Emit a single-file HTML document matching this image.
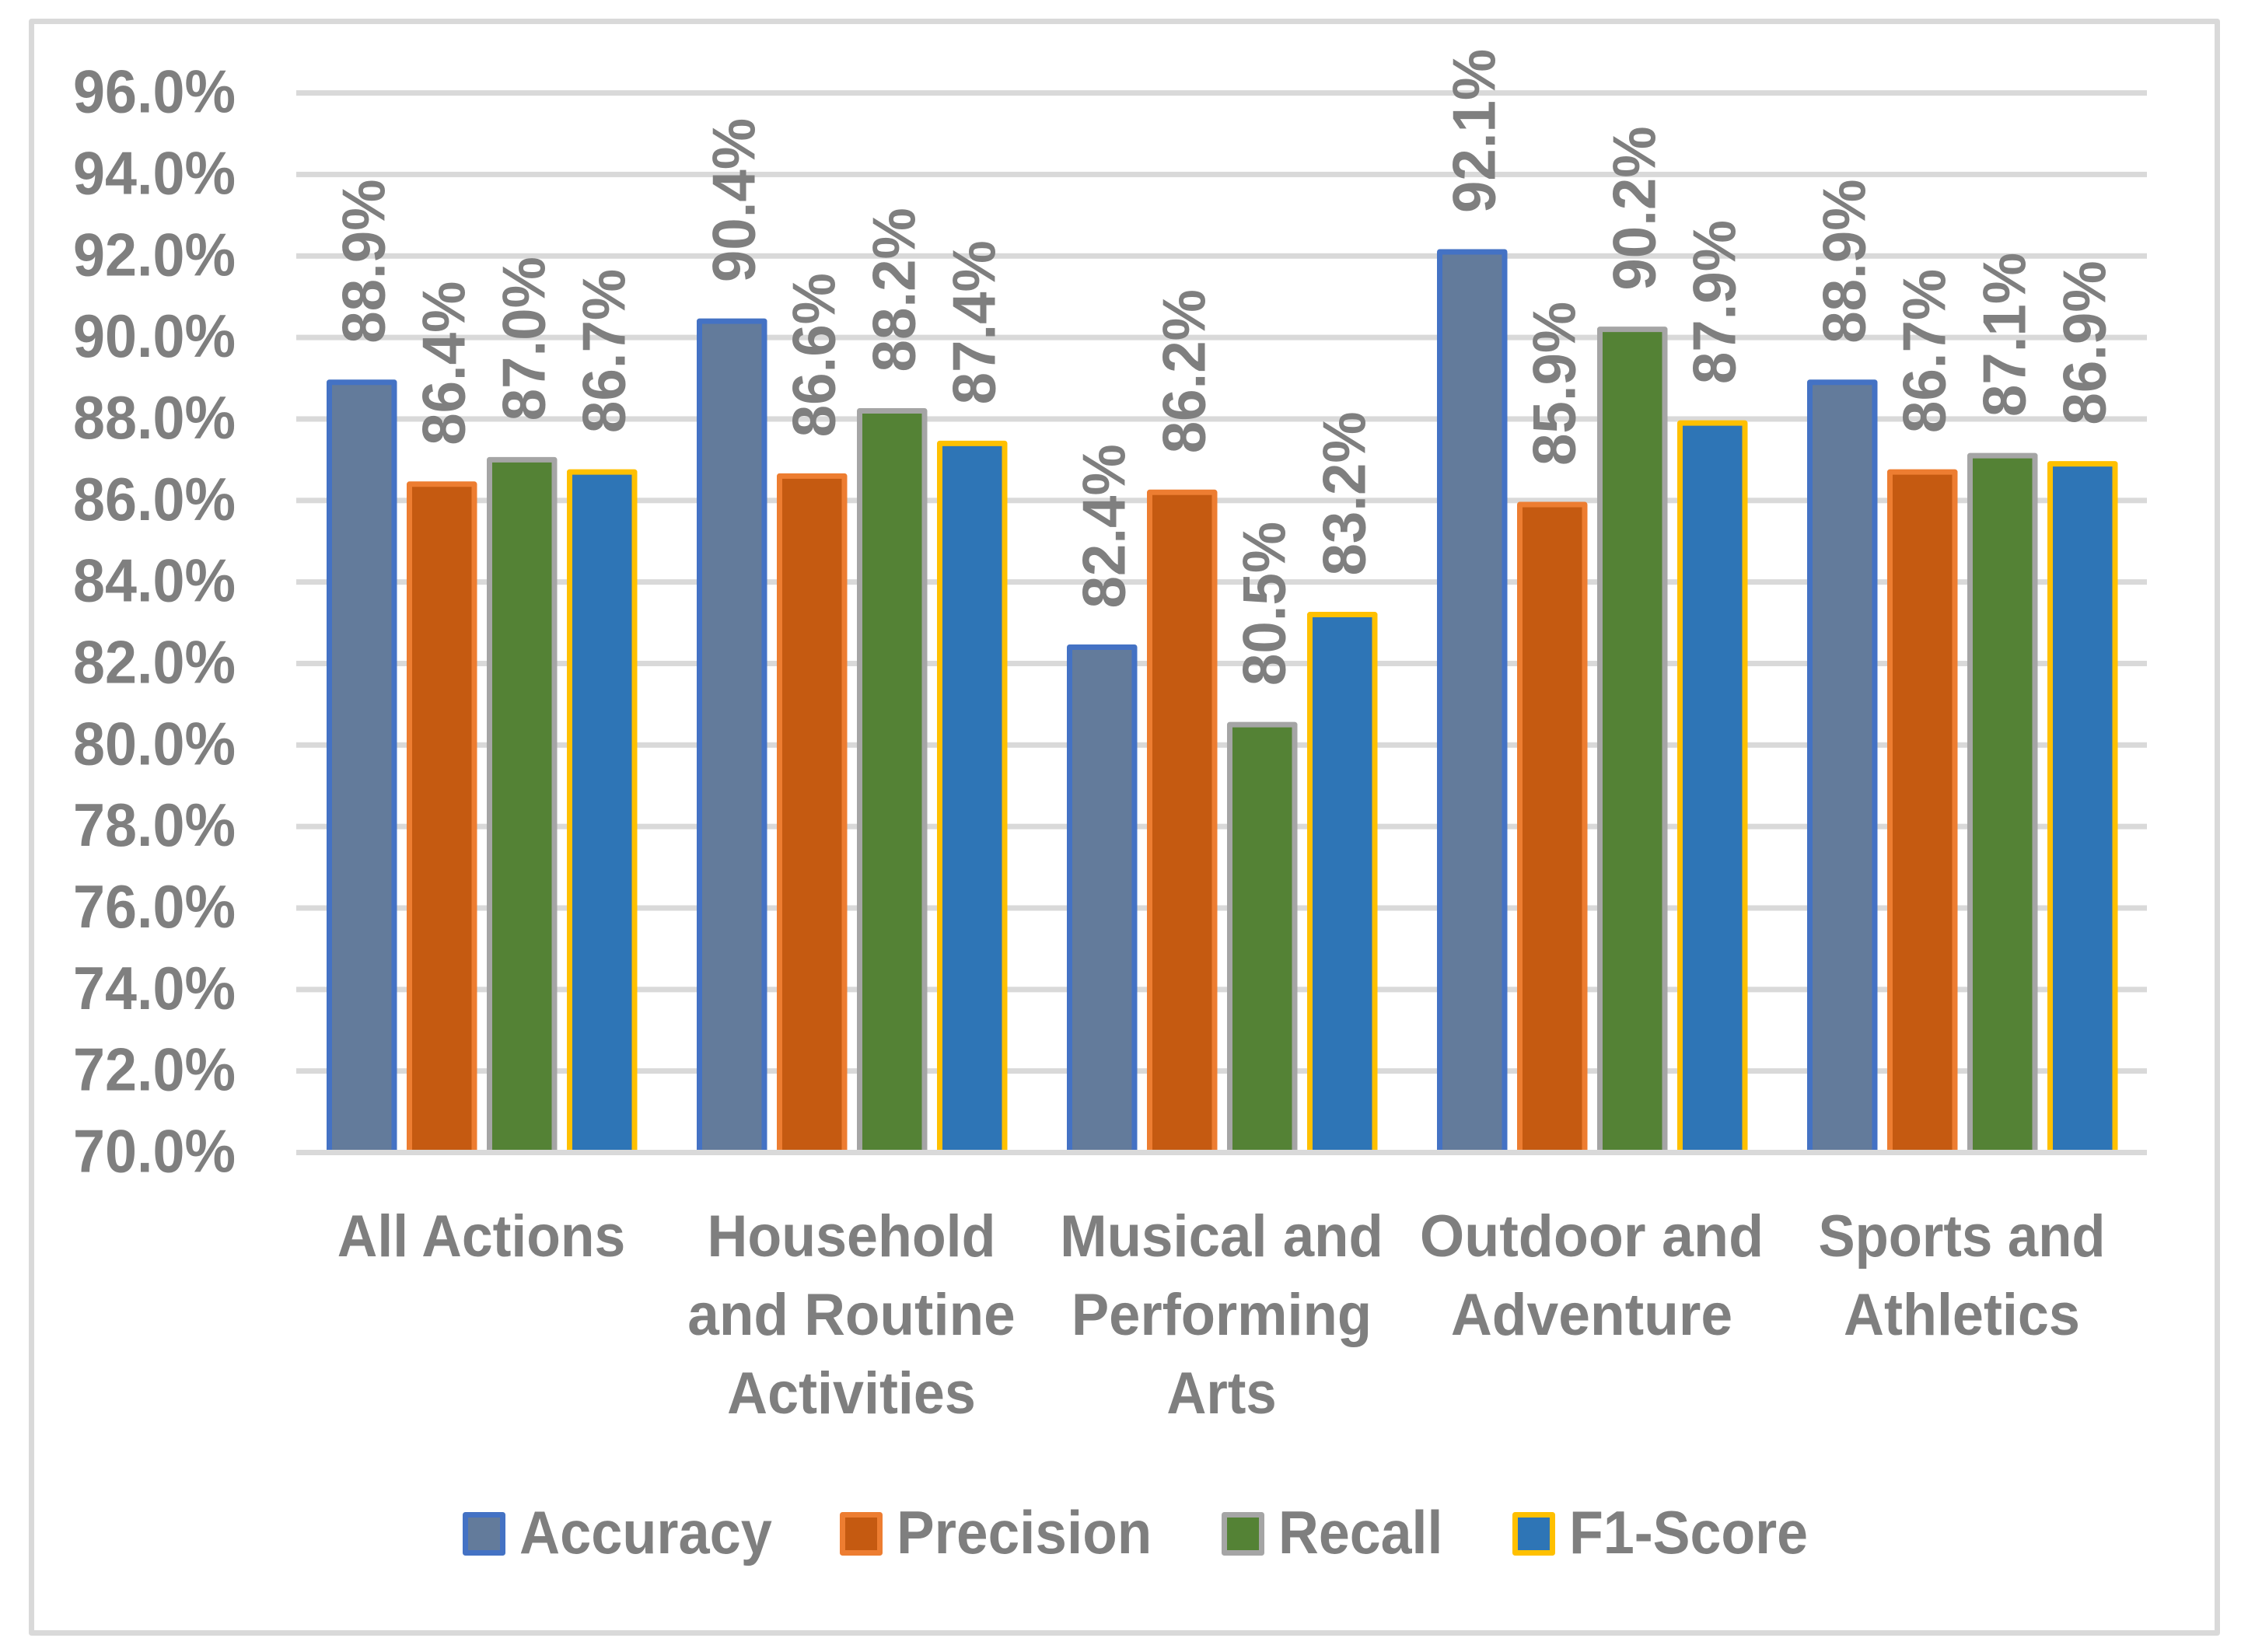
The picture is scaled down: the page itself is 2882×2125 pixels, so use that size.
<!DOCTYPE html>
<html lang="en">
<head>
<meta charset="utf-8">
<title>Accuracy, Precision, Recall and F1-Score by Action Category</title>
<style>
  html, body { margin: 0; padding: 0; background: #ffffff; }
  svg { display: block; }
  text { font-family: "Liberation Sans", sans-serif; font-weight: bold; fill: #7f7f7f; }
</style>
</head>
<body>
<svg id="chart" xmlns="http://www.w3.org/2000/svg" width="2882" height="2125" viewBox="0 0 2882 2125">
  <rect x="40.5" y="27.5" width="2811" height="2073" fill="#ffffff" stroke="#d9d9d9" stroke-width="7" stroke-linejoin="round"></rect>
</svg>
<script>
// ---- chart data ----
const categories = [
  ['All Actions'],
  ['Household', 'and Routine', 'Activities'],
  ['Musical and', 'Performing', 'Arts'],
  ['Outdoor and', 'Adventure'],
  ['Sports and', 'Athletics']
];
const seriesNames = ['Accuracy', 'Precision', 'Recall', 'F1-Score'];
const accuracyValues = [88.9, 90.4, 82.4, 92.1, 88.9];
const precisionValues = [86.4, 86.6, 86.2, 85.9, 86.7];
const recallValues = [87.0, 88.2, 80.5, 90.2, 87.1];
const f1Values = [86.7, 87.4, 83.2, 87.9, 86.9];
const tickValues = [70, 72, 74, 76, 78, 80, 82, 84, 86, 88, 90, 92, 94, 96];

// ---- layout and style (not data) ----
const seriesValues = [accuracyValues, precisionValues, recallValues, f1Values];
const seriesFill = ['#637b9b', '#c55a11', '#548235', '#2e75b6'];
const seriesStroke = ['#4472c4', '#ed7d31', '#a5a5a5', '#ffc000'];
const legendLeft = [595, 1080, 1571, 1945];
const legendFit = [0.925, 0.935, 0.92, 0.92];
const categoryFit = [
  [0.94],
  [0.945, 0.96, 0.946],
  [0.956, 0.953, 0.93],
  [0.97, 0.964],
  [0.93, 0.947]
];

const plot = { left: 381, right: 2761, y70: 1482.5, pxPerUnit: 52.42 };
const groupWidth = (plot.right - plot.left) / categories.length;
const barPitch = 103;
const barOuterWidth = 90.5;
const barStroke = 7;
const fontSize = 78;

const yAxis = v => plot.y70 - (v - tickValues[0]) * plot.pxPerUnit;
const barLeft = (c, s) => plot.left + c * groupWidth + 39 + s * barPitch;

const svg = document.getElementById('chart');
const NS = 'http://www.w3.org/2000/svg';

function make(tag, attrs, text) {
  const el = document.createElementNS(NS, tag);
  for (const k in attrs) el.setAttribute(k, attrs[k]);
  if (text !== undefined) el.textContent = text;
  svg.appendChild(el);
  return el;
}

// gridlines and y tick labels
tickValues.forEach(t => {
  if (t !== tickValues[0]) {
    const grid = make('rect', { x: plot.left, y: yAxis(t) - 3.5, width: plot.right - plot.left, height: 7, fill: '#d9d9d9' });
    
    
  }
  const label = make('text', {
    transform: 'translate(303,' + (yAxis(t) + 25) + ') scale(0.945,1)',
    'text-anchor': 'end',
    'font-size': fontSize
  }, t.toFixed(1) + '%');
  
  
});

// bars
seriesValues.forEach((values, s) => {
  values.forEach((v, c) => {
    const top = yAxis(v);
    const bar = make('rect', {
      x: barLeft(c, s) + barStroke / 2,
      y: top,
      width: barOuterWidth - barStroke,
      height: yAxis(tickValues[0]) - top,
      fill: seriesFill[s],
      stroke: seriesStroke[s],
      'stroke-width': barStroke,
      'stroke-linejoin': 'round'
    });
    
    
  });
});

// x axis line over the bar bottoms
const axisLine = make('rect', { x: plot.left, y: yAxis(tickValues[0]) - 3.5, width: plot.right - plot.left, height: 7, fill: '#d9d9d9' });



// rotated value labels
seriesValues.forEach((values, s) => {
  values.forEach((v, c) => {
    const bx = barLeft(c, s) + barOuterWidth / 2 + 29;
    const by = yAxis(v) - 50;
    const valueLabel = make('text', {
      transform: 'translate(' + bx + ',' + by + ') rotate(-90) scale(0.955,1)',
      'font-size': fontSize
    }, v.toFixed(1) + '%');
    
    
  });
});

// category labels
categories.forEach((lines, c) => {
  const cx = plot.left + (c + 0.5) * groupWidth;
  lines.forEach((line, i) => {
    const catLabel = make('text', {
      transform: 'translate(' + cx + ',' + (1616 + i * 101) + ') scale(' + categoryFit[c][i] + ',1)',
      'text-anchor': 'middle',
      'font-size': 76
    }, line);
    
    
  });
});

// legend
seriesNames.forEach((name, s) => {
  const swatch = make('rect', {
    x: legendLeft[s] + 3.5,
    y: 1948.5,
    width: 48,
    height: 49,
    fill: seriesFill[s],
    stroke: seriesStroke[s],
    'stroke-width': 7,
    'stroke-linejoin': 'round'
  });
  
  
  const legendText = make('text', {
    transform: 'translate(' + (legendLeft[s] + 73) + ',1998) scale(' + legendFit[s] + ',1)',
    'font-size': fontSize
  }, name);
  
  
});
</script>
</body>
</html>
